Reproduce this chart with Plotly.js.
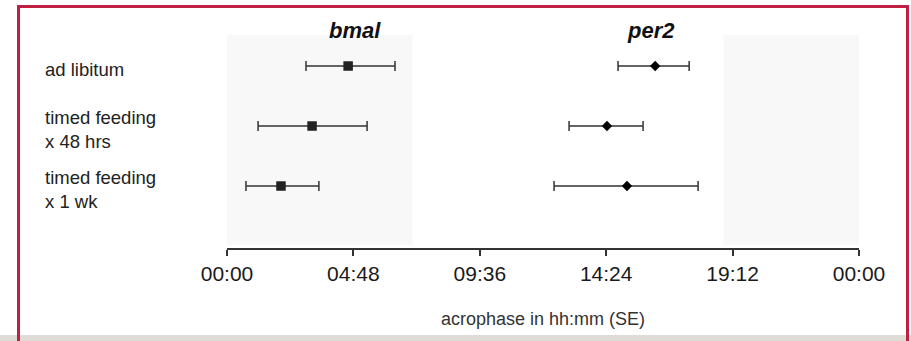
<!DOCTYPE html>
<html><head><meta charset="utf-8">
<script src="https://cdn.plot.ly/plotly-3.0.1.min.js"></script>
<style>
html,body{margin:0;padding:0;background:#fff;overflow:hidden;}
#strip{position:absolute;left:0;top:335px;width:911px;height:6px;background:#dfdcd7;}
#frame{position:absolute;left:17px;top:5px;width:886px;height:400px;border:3px solid #c11e44;box-sizing:content-box;}
#chart{position:absolute;left:0;top:0;width:911px;height:341px;}
</style></head>
<body>
<div id="strip"></div>
<div id="frame"></div>
<div id="chart"></div>
<script>
// categories (rows, top to bottom)
const groups = ["ad libitum", "timed feeding<br>x 48 hrs", "timed feeding<br>x 1 wk"];
// acrophase in hours (mean) and SE extents
const bmalMean  = [4.60, 3.23, 2.05];
const bmalMinus = [1.60, 2.05, 1.33];
const bmalPlus  = [1.78, 2.09, 1.44];
const per2Mean  = [16.26, 14.43, 15.19];
const per2Minus = [1.41, 1.44, 2.77];
const per2Plus  = [1.29, 1.37, 2.70];
// x ticks
const tickHours  = [0, 4.8, 9.6, 14.4, 19.2, 24];
const tickLabels = ["00:00", "04:48", "09:36", "14:24", "19:12", "00:00"];
// dark phase shading (hours)
const darkStart = [0, 18.85];
const darkEnd   = [7.05, 24];

const errStyle = {type:'data', symmetric:false, color:'#333', thickness:1.5, width:5};

const traces = [
  {type:'scatter', mode:'markers', name:'bmal', x:bmalMean, y:groups,
   marker:{symbol:'square', size:9.5, color:'#222'},
   error_x:Object.assign({array:bmalPlus, arrayminus:bmalMinus}, errStyle), hoverinfo:'skip'},
  {type:'scatter', mode:'markers', name:'per2', x:per2Mean, y:groups,
   marker:{symbol:'diamond', size:8, color:'#000'},
   error_x:Object.assign({array:per2Plus, arrayminus:per2Minus}, errStyle), hoverinfo:'skip'}
];

const shapes = darkStart.map((s,i)=>({type:'rect', layer:'below', xref:'x', yref:'paper',
  x0:s, x1:darkEnd[i], y0:0.014, y1:1, fillcolor:'#f8f8f8', line:{width:0}}));

const annotations = groups.map(g=>({xref:'paper', yref:'y', x:-0.291, y:g, text:g,
  xanchor:'left', yanchor:'middle', align:'left', showarrow:false, yshift:-3,
  font:{family:'Liberation Sans, Arial, sans-serif', size:18.5, color:'#222'}}));
annotations.push({xref:'x', yref:'paper', x:4.86, y:1.02, text:'<b><i>bmal</i></b>', showarrow:false,
  xanchor:'center', yanchor:'middle', font:{family:'Liberation Sans, Arial, sans-serif', size:22, color:'#111'}});
annotations.push({xref:'x', yref:'paper', x:16.1, y:1.02, text:'<b><i>per2</i></b>', showarrow:false,
  xanchor:'center', yanchor:'middle', font:{family:'Liberation Sans, Arial, sans-serif', size:22, color:'#111'}});

const layout = {
  width:911, height:341,
  margin:{l:227, r:52, t:35, b:93, pad:0},
  paper_bgcolor:'rgba(0,0,0,0)', plot_bgcolor:'rgba(0,0,0,0)',
  showlegend:false,
  font:{family:'Liberation Sans, Arial, sans-serif', color:'#222'},
  xaxis:{range:[0,24], tickvals:tickHours, ticktext:tickLabels, ticks:'outside', ticklen:6,
    tickwidth:2, tickcolor:'#333', showline:true, linecolor:'#333', linewidth:2,
    showgrid:false, zeroline:false, fixedrange:true,
    tickfont:{size:21, color:'#1a1a1a'},
    title:{text:'acrophase in hh:mm (SE)', font:{size:18, color:'#333'}, standoff:28}},
  yaxis:{type:'category', categoryarray:groups, range:[3.033,-0.517], showticklabels:false,
    showline:false, showgrid:false, zeroline:false, ticks:'', fixedrange:true},
  shapes:shapes, annotations:annotations
};
Plotly.newPlot('chart', traces, layout, {displayModeBar:false, staticPlot:true});
</script>
</body></html>
